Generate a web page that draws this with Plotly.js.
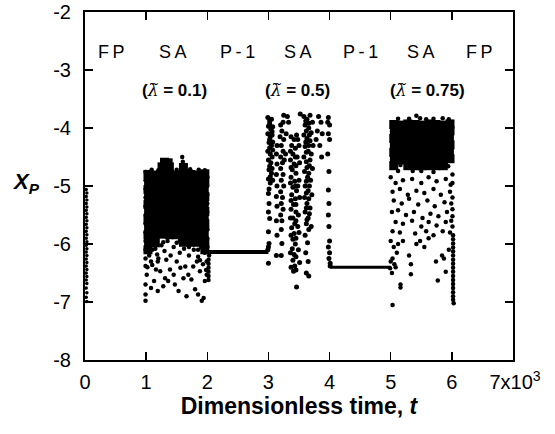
<!DOCTYPE html>
<html>
<head>
<meta charset="utf-8">
<script src="https://cdn.plot.ly/plotly-3.0.1.min.js"></script>
<style>html,body{margin:0;padding:0;background:#fff;}#chart{width:555px;height:434px;}</style>
</head>
<body>
<div id="chart"></div>
<script>
// time in units of 10^3 (dimensionless), X_P values
const xTickVals = [0, 1, 2, 3, 4, 5, 6, 7];
const xTickText = ["0", "1", "2", "3", "4", "5", "6", "\u20097x10<sup>3</sup>"];
const yTickVals = [-8, -7, -6, -5, -4, -3, -2];
const yTickText = ["-8", "-7", "-6", "-5", "-4", "-3", "-2"];

// FP transient near t = 0
const fpStartX = [0.02,0.03,0.02,0.03,0.02,0.03,0.02,0.03,0.02,0.03,0.02,0.03,0.02,0.03,0.02,0.03,0.02,0.03,0.02,0.03,0.02,0.03,0.02,0.03,0.02,0.03,0.02,0.03,0.02,0.03,0.02,0.03];
const fpStartY = [-5.06,-5.12,-5.18,-5.24,-5.30,-5.36,-5.42,-5.48,-5.54,-5.60,-5.66,-5.72,-5.78,-5.84,-5.90,-5.96,-6.02,-6.08,-6.14,-6.20,-6.26,-6.32,-6.38,-6.44,-6.50,-6.56,-6.62,-6.68,-6.76,-6.84,-6.92,-6.99];

// SA, lambda = 0.1 : dense core
const sa1Core = [
[1.03,-4.80],[1.15,-4.81],[1.26,-4.79],[1.38,-4.80],[1.49,-4.81],[1.61,-4.79],[1.73,-4.80],[1.84,-4.81],[1.96,-4.79],
[1.04,-4.93],[1.15,-4.94],[1.27,-4.92],[1.38,-4.93],[1.50,-4.94],[1.61,-4.92],[1.72,-4.93],[1.85,-4.94],[1.96,-4.92],
[1.03,-5.06],[1.14,-5.07],[1.26,-5.05],[1.37,-5.06],[1.49,-5.07],[1.62,-5.05],[1.73,-5.06],[1.84,-5.07],[1.95,-5.05],
[1.04,-5.19],[1.15,-5.20],[1.27,-5.18],[1.38,-5.19],[1.50,-5.20],[1.61,-5.18],[1.72,-5.19],[1.85,-5.20],[1.96,-5.18],
[1.03,-5.32],[1.14,-5.33],[1.26,-5.31],[1.38,-5.32],[1.49,-5.33],[1.62,-5.31],[1.73,-5.32],[1.84,-5.33],[1.95,-5.31],
[1.04,-5.45],[1.15,-5.46],[1.27,-5.44],[1.37,-5.45],[1.50,-5.46],[1.61,-5.44],[1.72,-5.45],[1.85,-5.46],[1.96,-5.44],
[1.03,-5.58],[1.14,-5.59],[1.26,-5.57],[1.38,-5.58],[1.49,-5.59],[1.62,-5.57],[1.73,-5.58],[1.84,-5.59],[1.95,-5.57],
[1.04,-5.71],[1.15,-5.72],[1.27,-5.70],[1.38,-5.71],[1.50,-5.72],[1.61,-5.70],[1.72,-5.71],[1.85,-5.72],[1.96,-5.70],
[1.03,-5.84],[1.14,-5.85],[1.26,-5.83],[1.38,-5.84],[1.49,-5.84],[1.61,-5.84],[1.73,-5.83],[1.84,-5.85],[1.95,-5.84],
[1.04,-5.97],[1.15,-5.98],[1.61,-5.97],[1.72,-5.97],[1.84,-5.97],[1.96,-5.98],
[1.03,-6.10],[1.96,-6.10],
[1.26,-4.67],[1.38,-4.67],[1.30,-4.59],[1.36,-4.60],[1.61,-4.68]
];
// SA, lambda = 0.1 : scattered points
const sa1Sparse = [
[0.99,-6.70],[0.99,-6.98],[0.99,-6.87],[1.01,-6.53],[1.08,-6.76],[1.13,-6.64],[1.19,-6.81],[1.23,-6.47],[1.28,-6.73],[1.31,-6.59],
[1.36,-6.64],[1.39,-6.44],[1.45,-6.53],[1.47,-6.70],[1.53,-6.81],[1.56,-6.41],[1.66,-6.90],[1.61,-6.59],[1.69,-6.53],[1.74,-6.61],
[1.80,-6.78],[1.85,-6.87],[1.91,-6.98],[1.94,-6.93],[1.88,-6.47],[1.96,-6.64],[1.10,-6.36],[1.19,-6.30],[1.16,-6.44],[1.33,-6.27],
[1.50,-6.30],[1.64,-6.39],[1.77,-6.39],[1.83,-6.30],[1.99,-6.53],
[0.99,-4.76],[0.99,-4.90],[0.99,-5.05],[0.99,-5.20],[0.99,-5.35],[0.99,-5.50],[0.99,-5.65],[0.99,-5.80],[0.99,-5.95],[0.99,-6.10],
[0.99,-6.25],[0.99,-6.38],[1.09,-4.72],[1.20,-4.73],[1.50,-4.72],[1.59,-4.50],[1.60,-4.58],[1.72,-4.71],[1.86,-4.72],[1.96,-4.73],
[2.00,-4.85],[2.00,-5.00],[2.00,-5.15],[2.00,-5.30],[2.00,-5.45],[2.00,-5.60],[2.00,-5.75],[2.00,-5.90],[2.00,-6.05],
[1.02,-6.05],[1.05,-6.20],[1.10,-6.10],[1.18,-6.18],[1.25,-6.02],[1.30,-6.12],[1.40,-6.20],[1.45,-6.05],[1.55,-6.15],[1.62,-6.08],
[1.70,-6.20],[1.78,-6.10],[1.85,-6.22],[1.90,-6.05],[1.96,-6.15],[1.99,-6.30],[1.98,-6.45],[1.93,-6.35],[1.88,-6.28],[1.20,-6.25],
[1.08,-6.30],[1.02,-6.40],[1.35,-5.95],[1.55,-5.95],[1.28,-5.97],[1.50,-5.98],
[1.15,-6.08],[1.85,-6.10],[1.70,-6.05],
[2.02,-6.62],[2.02,-6.55],[2.02,-6.48],[2.02,-6.41],[2.02,-6.34],[2.02,-6.27],[2.03,-6.20]
];

// P-1 between the SA windows
const p1aX = [2.03, 3.00];
const p1aY = [-6.14, -6.14];
const p1bX = [4.01, 5.00];
const p1bY = [-6.40, -6.40];

// SA, lambda = 0.5
const sa2 = [
[2.99,-3.82],[3.02,-3.88],[3.05,-3.85],[3.00,-3.97],[3.04,-4.02],[3.07,-3.98],[2.99,-4.10],[3.03,-4.15],[3.06,-4.12],[3.01,-4.25],
[3.05,-4.30],[2.99,-4.40],[3.03,-4.45],[3.07,-4.38],[3.00,-4.55],[3.04,-4.60],[3.01,-4.72],[3.05,-4.78],[3.00,-4.88],[3.03,-4.95],
[3.02,-3.93],[3.06,-4.06],[3.02,-4.20],[3.07,-4.24],[3.02,-4.34],[3.06,-4.50],[3.02,-4.66],[3.06,-4.70],[3.03,-4.84],[3.07,-4.90],
[3.00,-5.13],[3.01,-5.30],[3.00,-5.45],[3.02,-5.56],[3.00,-5.79],[3.01,-5.99],[3.00,-6.05],[2.99,-6.10],[3.00,-6.33],[3.01,-5.05],
[3.13,-4.45],[3.14,-4.62],[3.13,-4.80],[3.14,-5.00],[3.13,-5.18],[3.14,-5.35],[3.13,-5.60],[3.14,-5.85],[3.13,-6.20],[3.14,-4.30],
[3.20,-3.95],[3.24,-3.90],[3.22,-4.05],[3.19,-4.15],[3.25,-4.20],[3.21,-4.30],[3.24,-4.40],[3.20,-4.50],[3.23,-4.60],[3.26,-4.55],
[3.20,-4.70],[3.24,-4.80],[3.21,-4.90],[3.25,-5.00],[3.20,-5.10],[3.23,-5.20],[3.21,-5.30],[3.24,-5.40],[3.20,-5.50],[3.22,-5.60],
[3.21,-5.75],[3.22,-5.99],[3.21,-6.20],[3.31,-3.80],[3.33,-3.90],[3.25,-3.78],[3.29,-4.10],[3.28,-4.45],
[3.37,-4.15],[3.42,-4.20],[3.46,-4.12],[3.38,-4.30],[3.44,-4.35],[3.40,-4.45],[3.47,-4.50],[3.36,-4.55],[3.42,-4.62],[3.39,-4.72],
[3.45,-4.78],[3.37,-4.85],[3.43,-4.92],[3.40,-5.02],[3.46,-5.08],[3.38,-5.15],[3.44,-5.22],[3.41,-5.32],[3.37,-5.40],[3.45,-5.45],
[3.40,-5.55],[3.43,-5.65],[3.38,-5.72],[3.42,-5.82],[3.40,-5.92],[3.44,-6.00],[3.39,-6.08],[3.42,-6.18],[3.40,-6.28],[3.43,-6.38],
[3.41,-6.47],[3.46,-6.74],[3.50,-4.30],[3.51,-4.60],[3.50,-4.90],[3.51,-5.20],[3.49,-5.50],[3.50,-5.80],[3.49,-6.10],[3.51,-6.32],
[3.36,-4.40],[3.44,-4.50],[3.37,-4.68],[3.45,-4.65],[3.36,-4.95],[3.44,-5.00],[3.37,-5.25],[3.45,-5.32],[3.36,-5.55],[3.45,-5.60],
[3.37,-5.85],[3.45,-5.90],[3.36,-6.15],[3.45,-6.22],[3.37,-6.40],[3.45,-6.45],[3.48,-4.20],[3.48,-5.00],[3.48,-5.70],[3.52,-3.76],
[3.58,-3.80],[3.63,-3.85],[3.68,-3.78],[3.72,-3.90],[3.60,-3.95],[3.66,-4.00],[3.70,-4.08],[3.58,-4.12],[3.63,-4.18],[3.68,-4.22],
[3.73,-4.30],[3.60,-4.32],[3.65,-4.40],[3.70,-4.45],[3.58,-4.50],[3.62,-4.58],[3.67,-4.65],[3.72,-4.70],[3.59,-4.75],[3.64,-4.85],
[3.69,-4.90],[3.60,-5.00],[3.65,-5.08],[3.71,-5.15],[3.59,-5.20],[3.63,-5.30],[3.68,-5.38],[3.60,-5.45],[3.65,-5.55],[3.62,-5.65],
[3.66,-5.75],[3.60,-5.85],[3.64,-5.98],[3.61,-6.15],[3.65,-6.30],[3.62,-6.50],[3.66,-6.55],
[3.61,-3.88],[3.66,-3.92],[3.62,-4.05],[3.67,-4.12],[3.61,-4.24],[3.66,-4.30],[3.62,-4.42],[3.68,-4.55],[3.63,-4.68],[3.66,-4.78],
[3.62,-4.92],[3.67,-5.00],[3.62,-5.12],[3.66,-5.22],[3.62,-5.38],[3.67,-5.48],[3.63,-5.58],[3.70,-5.70],
[3.82,-3.80],[3.86,-3.90],[3.80,-4.05],[3.88,-4.10],[3.84,-4.30],[3.87,-4.50],[3.78,-4.20],
[3.98,-3.82],[3.97,-3.90],[4.00,-3.95],[3.98,-4.10],[4.00,-4.20],[3.97,-4.45],[3.99,-4.75],[3.98,-5.07],[3.99,-5.30],[3.98,-5.50],
[3.99,-5.70],[4.00,-5.95],[3.98,-6.05],[4.00,-6.15],[3.99,-6.25],[4.01,-6.33],[4.01,-6.38]
];

// SA, lambda = 0.75 : dense upper band
const sa3Core = [
[5.05,-3.94],[5.17,-3.95],[5.28,-3.93],[5.40,-3.94],[5.51,-3.95],[5.63,-3.93],[5.74,-3.94],[5.86,-3.95],[5.97,-3.93],
[5.06,-4.06],[5.17,-4.07],[5.29,-4.05],[5.40,-4.06],[5.52,-4.07],[5.63,-4.05],[5.75,-4.06],[5.86,-4.07],[5.97,-4.05],
[5.05,-4.18],[5.16,-4.19],[5.28,-4.17],[5.39,-4.18],[5.51,-4.19],[5.62,-4.17],[5.74,-4.18],[5.85,-4.19],[5.96,-4.17],
[5.06,-4.30],[5.17,-4.31],[5.29,-4.29],[5.40,-4.30],[5.52,-4.31],[5.63,-4.29],[5.75,-4.30],[5.86,-4.31],[5.97,-4.29],
[5.05,-4.42],[5.16,-4.43],[5.28,-4.41],[5.39,-4.42],[5.51,-4.43],[5.62,-4.41],[5.74,-4.42],[5.85,-4.43],[5.96,-4.41],
[5.06,-4.54],[5.17,-4.55],[5.29,-4.53],[5.40,-4.54],[5.52,-4.55],[5.63,-4.54],[5.75,-4.54],[5.86,-4.55],[5.97,-4.53],
[5.05,-4.65],[5.28,-4.65],[5.40,-4.65],[5.51,-4.65],[5.62,-4.65],[5.74,-4.65],[5.86,-4.65]
];
// SA, lambda = 0.75 : scattered points and transient to FP
const sa3Sparse = [
[5.12,-3.84],[5.30,-3.84],[5.42,-3.79],[5.48,-3.83],[5.58,-3.85],[5.70,-3.84],[5.85,-3.83],[5.95,-3.85],
[5.16,-4.64],[5.36,-4.74],[5.50,-4.74],[5.94,-4.66],[5.12,-4.74],[5.70,-4.76],
[5.00,-4.85],[5.08,-4.95],[5.20,-4.90],[5.35,-4.88],[5.50,-4.95],[5.62,-4.85],[5.75,-4.92],[5.90,-4.88],[5.98,-4.98],
[5.03,-5.10],[5.15,-5.05],[5.28,-5.15],[5.42,-5.08],[5.55,-5.12],[5.70,-5.05],[5.82,-5.15],[5.97,-5.10],
[5.05,-5.25],[5.18,-5.30],[5.30,-5.22],[5.45,-5.32],[5.60,-5.25],[5.72,-5.35],[5.88,-5.28],[5.99,-5.30],
[5.02,-5.45],[5.12,-5.42],[5.25,-5.50],[5.38,-5.45],[5.52,-5.55],[5.65,-5.48],[5.78,-5.52],[5.92,-5.45],
[5.08,-5.62],[5.20,-5.65],[5.35,-5.60],[5.50,-5.70],[5.62,-5.62],[5.75,-5.68],[5.90,-5.62],[5.99,-5.60],
[5.03,-5.78],[5.15,-5.80],[5.40,-5.82],[5.58,-5.78],[5.70,-5.85],[5.85,-5.78],[5.97,-5.80],
[6.01,-4.80],[6.01,-4.95],[6.01,-5.20],[6.01,-5.40],[6.01,-5.52],[6.01,-5.70],
[5.00,-5.95],[5.05,-6.05],[5.12,-6.00],[5.20,-5.95],[5.10,-6.15],[5.03,-6.25],[5.06,-6.35],[5.02,-6.50],[5.08,-6.40],[5.16,-6.70],
[5.16,-6.75],[5.33,-6.35],[5.33,-6.52],[5.30,-6.20],[5.42,-6.00],[5.48,-5.95],[5.55,-6.05],[5.62,-5.90],[5.74,-6.30],[5.77,-6.63],
[5.84,-6.20],[5.87,-6.25],[5.90,-6.48],[5.95,-6.10],[5.03,-7.05],[4.99,-6.42],[5.00,-6.30],
[6.02,-5.85],[6.02,-5.92],[6.02,-5.99],[6.02,-6.06],[6.02,-6.13],[6.02,-6.20],[6.02,-6.27],[6.02,-6.34],[6.02,-6.41],[6.02,-6.48],
[6.02,-6.55],[6.02,-6.62],[6.02,-6.69],[6.02,-6.76],[6.02,-6.83],[6.02,-6.90],[6.02,-6.96],[6.03,-7.02]
];

const regimeLabels = ["F\u2009P", "S\u2009A", "P\u2009-\u20091", "S\u2009A", "P\u2009-\u20091", "S\u2009A", "F\u2009P"];
const regimeX = [0.43, 1.44, 2.49, 3.49, 4.50, 5.49, 6.46];
const lambdaValues = ["0.1", "0.5", "0.75"];
const lambdaX = [1.47, 3.47, 5.60];

const FONT = "Liberation Sans, Arial, Helvetica, sans-serif";
const px = a => a.map(p => p[0]);
const py = a => a.map(p => p[1]);
const dot = s => ({color: "#000", size: s, line: {width: 0}});
const sq = s => ({color: "#000", size: s, symbol: "square", line: {width: 0}});

const traces = [
  {x: fpStartX, y: fpStartY, mode: "markers", marker: dot(3.5)},
  {x: px(sa1Core), y: py(sa1Core), mode: "markers", marker: sq(9)},
  {x: px(sa1Sparse), y: py(sa1Sparse), mode: "markers", marker: dot(4.5)},
  {x: p1aX, y: p1aY, mode: "lines", line: {color: "#000", width: 4}},
  {x: px(sa2), y: py(sa2), mode: "markers", marker: dot(5)},
  {x: p1bX, y: p1bY, mode: "lines", line: {color: "#000", width: 3}},
  {x: px(sa3Core), y: py(sa3Core), mode: "markers", marker: sq(9)},
  {x: px(sa3Sparse), y: py(sa3Sparse), mode: "markers", marker: dot(4.5)}
];

const annotations = [];
regimeLabels.forEach((t, i) => annotations.push({
  x: regimeX[i], y: -2.69, xref: "x", yref: "y", text: t, showarrow: false,
  xanchor: "center", yanchor: "middle",
  font: {family: FONT, size: 18, color: "#000"}
}));
lambdaValues.forEach((v, i) => annotations.push({
  x: lambdaX[i], y: -3.35, xref: "x", yref: "y", showarrow: false,
  xanchor: "center", yanchor: "middle",
  text: "<b>(</b><span style=\"font-family:'DejaVu Serif',serif\"><i>\u03bb\u0303</i></span><b> = " + v + ")</b>",
  font: {family: FONT, size: 17, color: "#000"}
}));
annotations.push({
  x: -0.138, y: -4.95, xref: "paper", yref: "y", showarrow: false,
  xanchor: "center", yanchor: "middle",
  text: "<b><i>X<sub>P</sub></i></b>", font: {family: FONT, size: 22, color: "#000"}
});

const axisCommon = {
  showline: true, linecolor: "#000", linewidth: 2, mirror: "ticks",
  ticks: "inside", ticklen: 8, tickwidth: 1.5, tickcolor: "#000",
  showgrid: false, zeroline: false,
  tickfont: {family: FONT, size: 20, color: "#000"}
};

const layout = {
  width: 555, height: 434,
  margin: {l: 85, r: 42, t: 12, b: 74},
  paper_bgcolor: "#fff", plot_bgcolor: "#fff",
  showlegend: false,
  xaxis: Object.assign({}, axisCommon, {
    range: [0, 7], tickmode: "array", tickvals: xTickVals, ticktext: xTickText,
    ticklabelstandoff: 3,
    title: {text: "<b>Dimensionless time, <i>t</i></b>", font: {family: FONT, size: 23, color: "#000"}, standoff: 0}
  }),
  yaxis: Object.assign({}, axisCommon, {
    range: [-8, -2], tickmode: "array", tickvals: yTickVals, ticktext: yTickText,
    ticklabelstandoff: 8
  }),
  annotations: annotations
};

Plotly.newPlot("chart", traces, layout, {staticPlot: true, displayModeBar: false});
</script>
</body>
</html>
